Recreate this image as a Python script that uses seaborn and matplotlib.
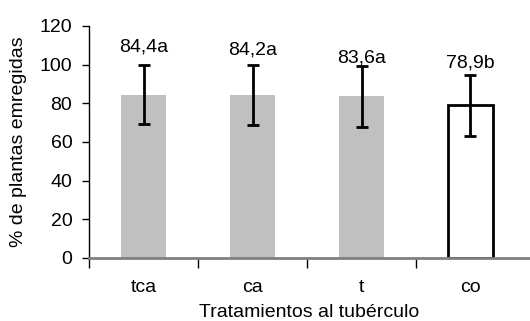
import matplotlib
matplotlib.use("Agg")
import matplotlib.pyplot as plt
import seaborn as sns
import pandas as pd
from matplotlib.ticker import FixedLocator

# Emergence data per tuber treatment
treatments = ["tca", "ca", "t", "co"]
emergence = [84.4, 84.2, 83.6, 78.9]
std_dev = [15.2, 15.6, 15.7, 15.6]
labels = ["84,4a", "84,2a", "83,6a", "78,9b"]
label_y = [109.1, 107.6, 103.7, 100.7]

sns.set_theme(style="white")
plt.rcParams["font.family"] = ["Liberation Sans", "DejaVu Sans"]
FS = 14

fig = plt.figure(figsize=(5.3, 3.21), dpi=100)
ax = fig.add_axes([89 / 530, 1 - 258 / 321, 441 / 530, 232 / 321])

df = pd.DataFrame({"tratamiento": treatments, "emergencia": emergence})
bar_colors = ["#c0c0c0", "#c0c0c0", "#c0c0c0", "white"]
sns.barplot(data=df, x="tratamiento", y="emergencia", hue="tratamiento",
            palette=bar_colors, legend=False, width=0.41, errorbar=None,
            linewidth=0, ax=ax)

# Outline for the control bar
for patch, name in zip(ax.patches, treatments):
    if name == "co":
        patch.set_edgecolor("black")
        patch.set_linewidth(2)

ax.errorbar(range(len(treatments)), emergence, yerr=std_dev, fmt="none",
            ecolor="black", elinewidth=2, capsize=4.5, capthick=2, zorder=5)

for i, (txt, y) in enumerate(zip(labels, label_y)):
    ax.text(i, y, txt, ha="center", va="center", fontsize=FS, color="black", zorder=6)

ax.set_ylim(0, 120)
ax.set_xlim(-0.5, -0.5 + 441 / 109)
ax.set_yticks(range(0, 121, 20))
ax.tick_params(axis="y", which="major", direction="out", length=5, width=1,
               color="black", left=True, labelsize=FS, pad=7, labelcolor="black")
ax.xaxis.set_minor_locator(FixedLocator([-0.5, 0.5, 1.5, 2.5]))
ax.tick_params(axis="x", which="major", length=0, labelsize=FS, pad=15, labelcolor="black")
ax.tick_params(axis="x", which="minor", direction="out", length=7, width=1,
               color="black", bottom=True)

for s in ["top", "right"]:
    ax.spines[s].set_visible(False)
ax.spines["left"].set_color("black")
ax.spines["left"].set_linewidth(1)
ax.spines["bottom"].set_color("#808080")
ax.spines["bottom"].set_linewidth(2)
ax.grid(False)

ax.set_xlabel("Tratamientos al tubérculo", fontsize=FS, color="black", labelpad=6)
ax.set_ylabel("% de plantas emregidas", fontsize=FS, color="black", labelpad=9)

fig.savefig("out.png", dpi=100)
